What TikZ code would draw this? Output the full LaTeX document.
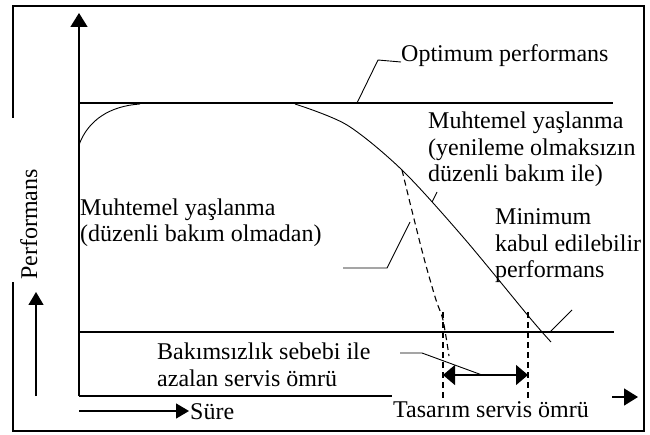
\documentclass[tikz,border=0pt]{standalone}
\usepackage{fontspec}
\setmainfont{Liberation Serif}
\usetikzlibrary{arrows.meta}
\begin{document}
\begin{tikzpicture}[x=1pt,y=-1pt,
  lbl/.style={inner sep=0pt, anchor=base west, align=left, font=\fontsize{24}{26.5}\selectfont},
  frame/.style={line width=2.2pt},
  axis/.style={line width=1.4pt},
  thinline/.style={line width=0.9pt},
  dsh/.style={line width=1.1pt, dash pattern=on 6pt off 4pt},
  bigtip/.style={-{Triangle[length=14pt,width=17pt]}},
  smalltip/.style={-{Triangle[length=13pt,width=15pt]}},
  dbltip/.style={{Triangle[length=12pt,width=20pt]}-{Triangle[length=12pt,width=20pt]}},
]
\useasboundingbox (0,0) rectangle (650,435);
% frame
\draw[frame] (13,118) -- (13,6) -- (644,6) -- (644,431) -- (13,431) -- (13,282);
% axes
\coordinate (O) at (79,396);
\coordinate (ytop) at (79,13);
\coordinate (xend) at (392,396);
\coordinate (xs) at (612,397);
\coordinate (xtip) at (638,397);
\draw[axis, bigtip] (O) -- (ytop);
\draw[axis] (O) -- (xend);
\draw[axis, bigtip] (xs) -- (xtip);
% levels
\coordinate (opA) at (79,103); \coordinate (opB) at (613,103);
\coordinate (mnA) at (79,332); \coordinate (mnB) at (614,332);
\draw[axis] (opA) -- (opB);
\draw[axis] (mnA) -- (mnB);
% curves
\draw[thinline] (79,145) .. controls (88,120) and (110,106) .. (140,104);
\draw[thinline] plot[smooth] coordinates {(295,104) (347,125) (402,170) (463,237) (530,318) (551,342)};
\draw[dsh] plot[smooth] coordinates {(402,170) (413,215) (425,262) (436,300) (443,320) (449,356)};
\coordinate (d1t) at (443,312); \coordinate (d1b) at (443,398);
\coordinate (d2t) at (528,312); \coordinate (d2b) at (528,398);
\draw[dsh] (d1t) -- (d1b);
\draw[dsh] (d2t) -- (d2b);
\coordinate (la) at (443,375); \coordinate (lb) at (528,375);
\draw[axis, dbltip] (la) -- (lb);
% texts (base = baseline of last line)
\node[lbl] (opt) at (401,62) {Optimum performans};
\node[lbl] (my) at (428,182) {Muhtemel yaşlanma\\(yenileme olmaksızın\\düzenli bakım ile)};
\node[lbl] (mn) at (80,242) {Muhtemel yaşlanma\\(düzenli bakım olmadan)};
\node[lbl] (mk) at (495,278) {Minimum\\kabul edilebilir\\performans};
\node[lbl] (bs) at (157,386) {Bakımsızlık sebebi ile\\azalan servis ömrü};
\node[lbl] (sure) at (190,419) {Süre};
\node[lbl] (tas) at (393,417) {Tasarım servis ömrü};
\node[lbl, rotate=90] (perf) at (37,280) {Performans};
% leaders
\draw[thinline] (357,103) -- (378,60) -- (opt.base west);
\draw[thinline] (432,202) -- (437,192);
\draw[thinline] (343,268) -- (387,268) -- (410,222);
\draw[thinline] (550,332) -- (572,310);
\draw[thinline] (400,353) -- (422,353) -- (482,375);
% small arrows
\coordinate (pa) at (36,396); \coordinate (pb) at (36,292);
\draw[axis, smalltip] (pa) -- (pb);
\coordinate (sa) at (79,411); \coordinate (sb) at (189,411);
\draw[axis, smalltip] (sa) -- (sb);
\end{tikzpicture}
\end{document}
